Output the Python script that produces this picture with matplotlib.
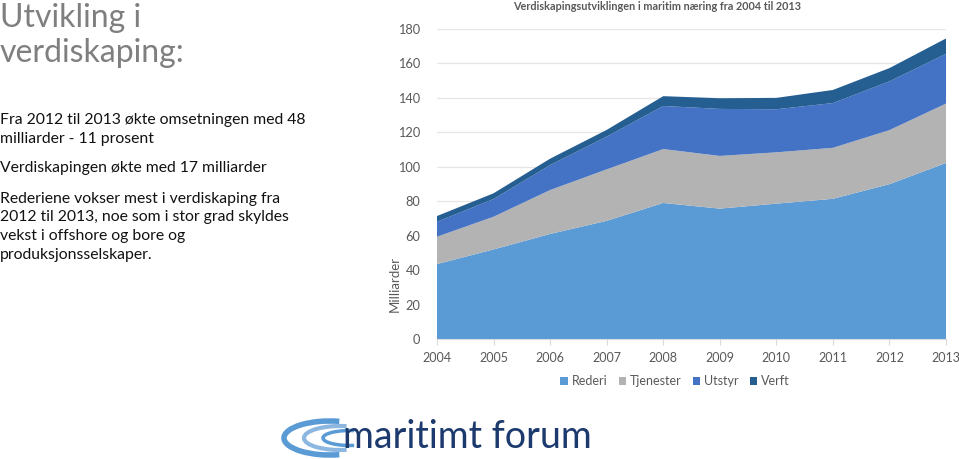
import matplotlib
matplotlib.use("Agg")
import matplotlib.pyplot as plt
from matplotlib.patches import Arc
import numpy as np

plt.rcParams['font.family'] = ['Lato', 'DejaVu Sans']

years = [2004, 2005, 2006, 2007, 2008, 2009, 2010, 2011, 2012, 2013]
rederi = [43.5, 52.0, 61.0, 68.6, 79.0, 75.7, 78.6, 81.4, 89.9, 102.2]
tjenester = [15.9, 19.0, 25.5, 29.9, 31.3, 30.6, 29.8, 29.6, 31.4, 34.5]
utstyr = [8.7, 10.3, 14.5, 19.0, 25.0, 27.3, 25.0, 26.0, 28.3, 28.9]
verft = [3.3, 3.3, 3.7, 3.9, 5.7, 6.2, 6.6, 7.6, 7.7, 8.9]
series_names = ["Rederi", "Tjenester", "Utstyr", "Verft"]
colors = ["#5B9BD5", "#B3B3B3", "#4472C4", "#255E91"]
yticks = [0, 20, 40, 60, 80, 100, 120, 140, 160, 180]

title = "Verdiskapingsutviklingen i maritim næring fra 2004 til 2013"
heading = ["Utvikling i", "verdiskaping:"]
body = [
    ("Fra 2012 til 2013 økte omsetningen med 48", 120),
    ("milliarder - 11 prosent", 139),
    ("Verdiskapingen økte med 17 milliarder", 168),
    ("Rederiene vokser mest i verdiskaping fra", 199),
    ("2012 til 2013, noe som i stor grad skyldes", 217),
    ("vekst i offshore og bore og", 236),
    ("produksjonsselskaper.", 255),
]

W, H = 959, 459
fig = plt.figure(figsize=(W / 100, H / 100), dpi=100)
fig.patch.set_facecolor("white")

ax = fig.add_axes([437 / W, 1 - 339 / H, 509 / W, 310 / H])
ax.stackplot(years, rederi, tjenester, utstyr, verft, colors=colors,
             labels=series_names, linewidth=0)
ax.set_xlim(years[0], years[-1])
ax.set_ylim(0, 180)
ax.set_yticks(yticks)
ax.set_yticklabels([str(v) for v in yticks])
ax.set_xticks(years)
ax.set_xticklabels([str(y) for y in years])
ax.grid(axis="y", color="#E6E6E6", linewidth=0.9)
ax.set_axisbelow(True)
for s in ["top", "right", "left"]:
    ax.spines[s].set_visible(False)
ax.spines["bottom"].set_color("#D9D9D9")
ax.tick_params(axis="y", length=0, pad=12, labelsize=9.2, labelcolor="#595959")
ax.tick_params(axis="x", length=4, color="#D9D9D9", pad=5, labelsize=9.0,
               labelcolor="#595959")

fig.text(395 / W, 1 - 284 / H, "Milliarder", rotation=90, ha="center",
         va="center", fontsize=9.5, color="#595959")
fig.text(657 / W, 1 - 7 / H, title, ha="center", va="center", fontsize=7.8,
         fontweight="bold", color="#595959")

handles, labels = ax.get_legend_handles_labels()
leg = fig.legend(handles, labels, loc="center", bbox_to_anchor=(675 / W, 1 - 381 / H),
                 ncol=4, frameon=False, fontsize=9.0, handlelength=0.6,
                 handleheight=0.6, handletextpad=0.3, columnspacing=0.9)
for t in leg.get_texts():
    t.set_color("#595959")

# left text panel
fig.text(0, 1 - 18 / H, heading[0], ha="left", va="center", fontsize=23,
         color="#7F7F7F")
fig.text(0, 1 - 53 / H, heading[1], ha="left", va="center", fontsize=23,
         color="#7F7F7F")
for txt, y in body:
    fig.text(0, 1 - y / H, txt, ha="left", va="center", fontsize=11.3,
             color="#111111")

# logo
logo_color = "#1C3A6E"
fig.text(343 / W, 1 - 437 / H, "maritimt forum", ha="left", va="center",
         fontsize=27, color=logo_color)
for cx, w, h, c, lw in [(330, 92, 34, "#5B9BD5", 4.0), (340, 72, 24, "#8DB7E0", 3.0),
                        (350, 54, 15, "#5B9BD5", 2.5)]:
    a = Arc((cx / W, 1 - 438 / H), w / W, h / H, theta1=75, theta2=285,
            transform=fig.transFigure, edgecolor=c, linewidth=lw)
    fig.add_artist(a)

fig.savefig("out.png", dpi=100, facecolor="white")
